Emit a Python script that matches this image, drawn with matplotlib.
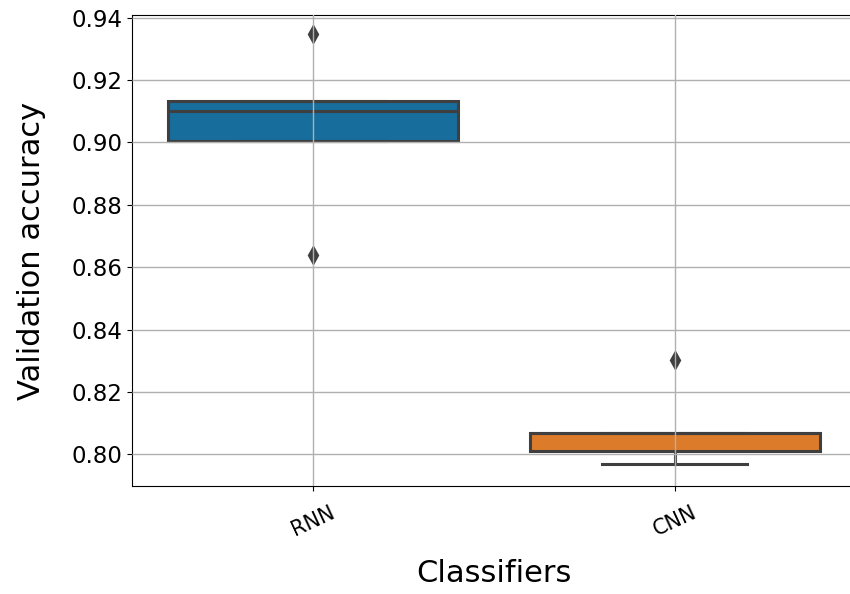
import numpy as np
import matplotlib
matplotlib.use("Agg")
import matplotlib.pyplot as plt
import seaborn as sns

# Data (validation accuracy per run)
classifiers = ["RNN", "CNN"]
rnn_acc = [0.8638, 0.9004, 0.9100, 0.9134, 0.9348]
cnn_acc = [0.7970, 0.8012, 0.8069, 0.8069, 0.8301]

palette = [sns.desaturate(sns.color_palette("colorblind")[0], 0.75), "#dc7b2a"]
line_col = "#3f3f3f"

fig = plt.figure(figsize=(8.5, 5.94), dpi=100)
ax = fig.add_axes([0.155, 0.182, 0.852, 0.792])

bp = ax.boxplot([rnn_acc, cnn_acc], positions=[0, 1], widths=0.8,
                patch_artist=True, whis=1.5,
                boxprops=dict(edgecolor=line_col, linewidth=2.2),
                medianprops=dict(color=line_col, linewidth=2.2),
                whiskerprops=dict(color=line_col, linewidth=2.2),
                capprops=dict(color=line_col, linewidth=2.2),
                flierprops=dict(marker="d", markerfacecolor=line_col,
                                markeredgecolor=line_col, markersize=9))
for patch, col in zip(bp["boxes"], palette):
    patch.set_facecolor(col)

ax.set_xlim(-0.5, 1.5)
ax.set_ylim(0.7899, 0.9407)
ax.set_xticks([0, 1])
ax.set_xticklabels(classifiers, rotation=25, fontsize=15)
ax.tick_params(axis="x", pad=8)
ax.set_yticks(np.arange(0.80, 0.941, 0.02))
ax.set_yticklabels([f"{v:.2f}" for v in np.arange(0.80, 0.941, 0.02)], fontsize=16.5)
ax.set_xlabel("Classifiers", fontsize=22, labelpad=14)
ax.set_ylabel("Validation accuracy", fontsize=22, labelpad=18)
ax.spines["right"].set_visible(False)  # cut off in the original
ax.set_axisbelow(False)
ax.grid(True, color="#b0b0b0", linewidth=1)

fig.savefig("out.png", dpi=100)
